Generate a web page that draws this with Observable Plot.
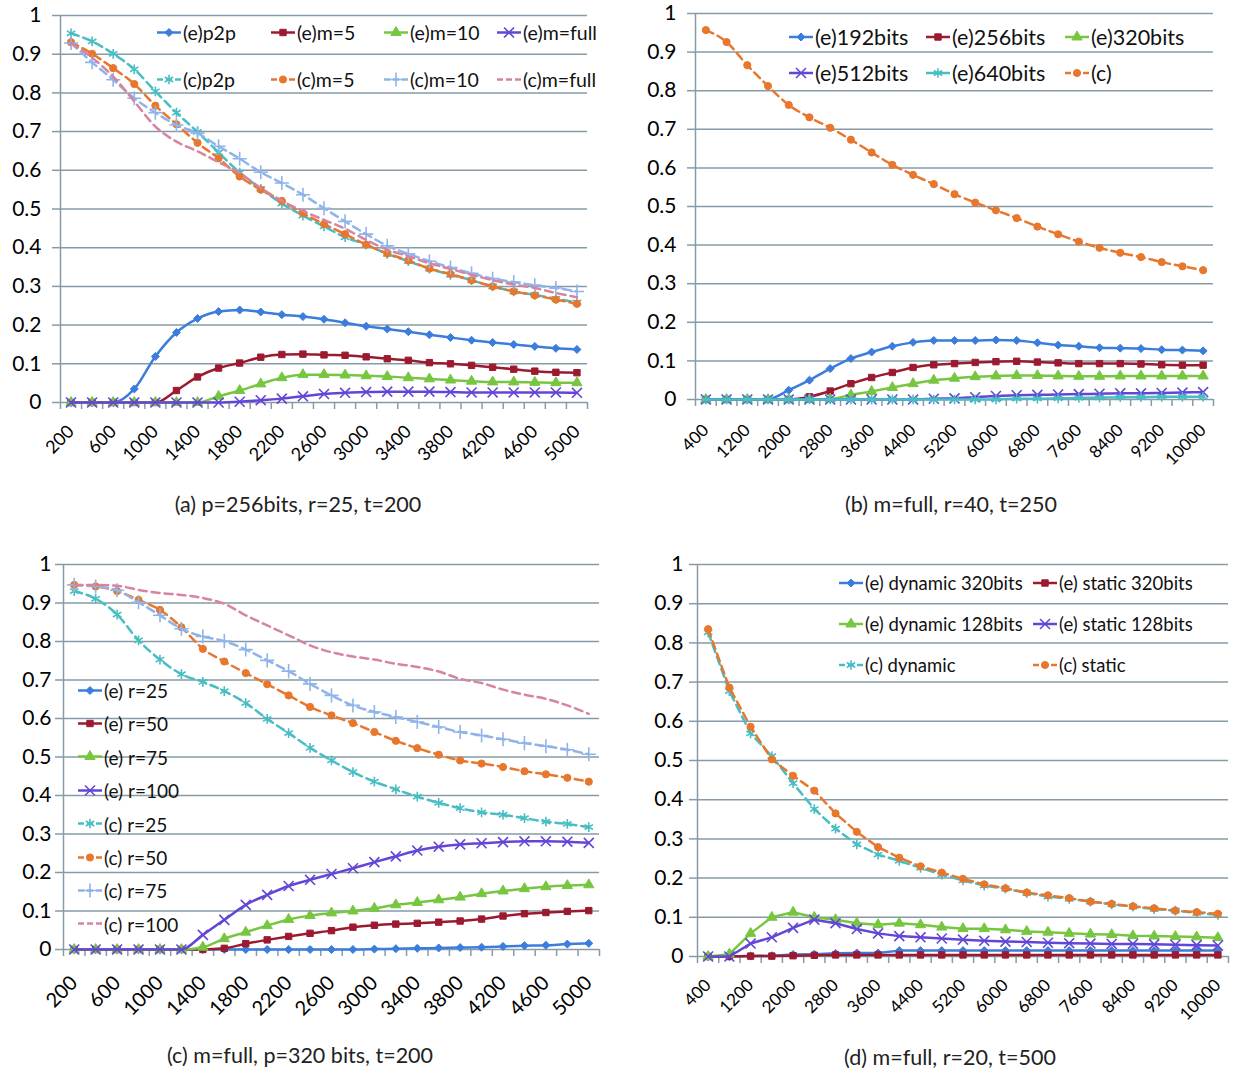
<!DOCTYPE html>
<html><head><meta charset="utf-8">
<script src="https://cdn.jsdelivr.net/npm/d3@7"></script>
<script src="https://cdn.jsdelivr.net/npm/@observablehq/plot@0.6"></script>
<style>
body{margin:0;background:#fff;font-family:Lato,"Open Sans",sans-serif;}
#root{position:relative;width:1247px;height:1070px;overflow:hidden;background:#fff;}
.panel{position:absolute;}
.cap{position:absolute;font-size:21.5px;color:#222;white-space:nowrap;transform:translate(-50%,-50%);}
.leg{position:absolute;display:flex;align-items:center;white-space:nowrap;color:#111;transform:translateY(-50%);}
.leg svg{margin-right:2px;overflow:visible;}
</style></head>
<body><div id="root"></div>
<script>
// ---------- categories ----------
const catsA = [200,400,600,800,1000,1200,1400,1600,1800,2000,2200,2400,2600,2800,3000,3200,3400,3600,3800,4000,4200,4400,4600,4800,5000];
const catsB = [400,800,1200,1600,2000,2400,2800,3200,3600,4000,4400,4800,5200,5600,6000,6400,6800,7200,7600,8000,8400,8800,9200,9600,10000];
const catsC = catsA;
const catsD = catsB;
const yTicks = [0,0.1,0.2,0.3,0.4,0.5,0.6,0.7,0.8,0.9,1];

// ---------- (a) p=256bits, r=25, t=200 ----------
const aE_p2p  = [0,0,0,0.035,0.119,0.181,0.217,0.235,0.239,0.234,0.227,0.222,0.215,0.206,0.197,0.19,0.183,0.175,0.168,0.161,0.155,0.15,0.145,0.14,0.137];
const aE_m5   = [0,0,0,0,0,0.031,0.066,0.089,0.102,0.117,0.124,0.125,0.123,0.122,0.118,0.113,0.109,0.103,0.1,0.096,0.091,0.086,0.081,0.078,0.077];
const aE_m10  = [0,0,0,0,0,0,0,0.016,0.031,0.048,0.064,0.072,0.072,0.071,0.069,0.067,0.064,0.061,0.058,0.055,0.053,0.053,0.052,0.051,0.051];
const aE_full = [0,0,0,0,0,0,0,0,0.002,0.006,0.01,0.016,0.022,0.025,0.027,0.028,0.028,0.028,0.027,0.026,0.026,0.026,0.026,0.026,0.025];
const aC_p2p  = [0.954,0.933,0.901,0.861,0.804,0.749,0.699,0.646,0.594,0.552,0.514,0.483,0.455,0.427,0.408,0.384,0.365,0.346,0.33,0.316,0.3,0.287,0.278,0.268,0.259];
const aC_m5   = [0.931,0.901,0.864,0.823,0.767,0.719,0.671,0.631,0.584,0.55,0.521,0.489,0.461,0.435,0.408,0.385,0.367,0.346,0.332,0.316,0.3,0.287,0.277,0.266,0.255];
const aC_m10  = [0.929,0.879,0.834,0.786,0.749,0.717,0.696,0.662,0.63,0.595,0.567,0.537,0.502,0.468,0.435,0.405,0.384,0.365,0.349,0.334,0.32,0.311,0.303,0.296,0.287];
const aC_full = [0.929,0.891,0.842,0.778,0.713,0.674,0.649,0.621,0.593,0.554,0.521,0.495,0.472,0.449,0.42,0.395,0.378,0.36,0.345,0.33,0.316,0.305,0.296,0.283,0.272];

// ---------- (b) m=full, r=40, t=250 ----------
const bE192 = [0,0,0,0.001,0.024,0.05,0.08,0.106,0.123,0.138,0.148,0.153,0.153,0.153,0.154,0.153,0.147,0.141,0.138,0.134,0.133,0.132,0.129,0.128,0.126];
const bE256 = [0,0,0,0,0,0.007,0.022,0.041,0.057,0.07,0.083,0.09,0.093,0.096,0.098,0.099,0.097,0.095,0.093,0.093,0.093,0.092,0.09,0.089,0.089];
const bE320 = [0,0,0,0,0,0,0.001,0.012,0.021,0.031,0.041,0.05,0.055,0.059,0.061,0.062,0.062,0.061,0.06,0.06,0.061,0.061,0.061,0.061,0.061];
const bE512 = [0,0,0,0,0,0,0,0,0,0,0,0.002,0.003,0.006,0.009,0.011,0.012,0.013,0.014,0.015,0.016,0.016,0.017,0.018,0.019];
const bE640 = [0,0,0,0,0,0,0,0,0,0,0,0,0,0,0,0.002,0.002,0.003,0.004,0.005,0.006,0.006,0.007,0.007,0.007];
const bC    = [0.957,0.926,0.866,0.812,0.763,0.731,0.704,0.673,0.64,0.608,0.582,0.558,0.532,0.51,0.49,0.47,0.448,0.428,0.409,0.393,0.38,0.369,0.356,0.345,0.335];

// ---------- (c) m=full, p=320 bits, t=200 ----------
const cE25  = [0,0,0,0,0,0,0,0,0,0,0,0,0,0,0.001,0.002,0.003,0.004,0.005,0.006,0.008,0.01,0.011,0.014,0.016];
const cE50  = [0,0,0,0,0,0,0,0.003,0.015,0.025,0.034,0.042,0.049,0.058,0.063,0.066,0.068,0.071,0.074,0.079,0.087,0.093,0.096,0.099,0.101];
const cE75  = [0,0,0,0,0,0,0.006,0.028,0.045,0.062,0.078,0.088,0.095,0.1,0.107,0.116,0.122,0.129,0.136,0.145,0.152,0.158,0.163,0.166,0.168];
const cE100 = [0,0,0,0,0,0,0.038,0.077,0.116,0.142,0.165,0.181,0.196,0.211,0.227,0.242,0.257,0.267,0.273,0.276,0.279,0.281,0.281,0.28,0.277];
const cC25  = [0.931,0.911,0.87,0.803,0.753,0.715,0.695,0.671,0.64,0.599,0.562,0.524,0.491,0.461,0.436,0.416,0.397,0.381,0.367,0.356,0.35,0.341,0.332,0.326,0.318];
const cC50  = [0.947,0.943,0.931,0.908,0.882,0.837,0.781,0.748,0.718,0.689,0.66,0.63,0.608,0.588,0.565,0.542,0.523,0.506,0.491,0.483,0.474,0.463,0.455,0.446,0.436];
const cC75  = [0.947,0.943,0.933,0.902,0.868,0.833,0.813,0.801,0.779,0.751,0.723,0.69,0.66,0.634,0.617,0.604,0.591,0.578,0.565,0.556,0.546,0.536,0.528,0.519,0.507];
const cC100 = [0.947,0.947,0.945,0.934,0.926,0.921,0.913,0.898,0.868,0.842,0.816,0.79,0.772,0.761,0.753,0.742,0.734,0.722,0.703,0.692,0.675,0.662,0.651,0.634,0.612];

// ---------- (d) m=full, r=20, t=500 ----------
const dEdyn320 = [0,0,0.001,0.002,0.005,0.006,0.008,0.009,0.009,0.015,0.015,0.015,0.015,0.015,0.015,0.015,0.015,0.015,0.015,0.015,0.015,0.015,0.015,0.015,0.015];
const dEsta320 = [0,0,0.001,0.001,0.002,0.003,0.004,0.004,0.004,0.004,0.004,0.004,0.004,0.004,0.004,0.004,0.004,0.004,0.004,0.004,0.004,0.004,0.004,0.004,0.004];
const dEdyn128 = [0,0.006,0.059,0.1,0.113,0.1,0.094,0.085,0.081,0.085,0.081,0.075,0.071,0.071,0.068,0.064,0.062,0.059,0.057,0.056,0.053,0.052,0.051,0.05,0.048];
const dEsta128 = [0,0,0.033,0.049,0.073,0.094,0.085,0.07,0.059,0.052,0.049,0.046,0.043,0.04,0.038,0.037,0.035,0.034,0.033,0.032,0.032,0.031,0.03,0.029,0.028];
const dCdyn    = [0.827,0.677,0.569,0.511,0.442,0.376,0.326,0.286,0.26,0.244,0.226,0.209,0.194,0.181,0.173,0.162,0.153,0.147,0.14,0.133,0.127,0.121,0.117,0.111,0.106];
const dCsta    = [0.835,0.686,0.586,0.503,0.461,0.423,0.365,0.318,0.279,0.252,0.23,0.214,0.198,0.184,0.174,0.163,0.156,0.149,0.14,0.134,0.128,0.123,0.117,0.113,0.109];

// ---------- styles ----------
const C = {blue:"#3b7ddd", red:"#9c1a30", green:"#77c640", purple:"#6446d6", cyan:"#47bec3", orange:"#e8772e", lblue:"#8fb4ea", pink:"#d6849f"};
const GRID = "#869ba7", AXIS = "#869ba7";
const SYM = {
  diamond: d3.symbolDiamond2 || d3.symbolDiamond,
  square: d3.symbolSquare,
  triangle: d3.symbolTriangle,
  circle: d3.symbolCircle,
  times: d3.symbolTimes || d3.symbolX || d3.symbolCross,
  asterisk: d3.symbolAsterisk || d3.symbolCross,
  plus: d3.symbolPlus || d3.symbolCross
};
const FILLED = new Set(["diamond","square","triangle","circle"]);
const SIZE = {diamond:3.6, square:3.6, triangle:3.8, circle:3.6, times:4.6, asterisk:4.6, plus:4.6};
const S = {
  eBlue:{color:C.blue, sym:"diamond", dash:false},
  eRed:{color:C.red, sym:"square", dash:false},
  eGreen:{color:C.green, sym:"triangle", dash:false},
  ePurple:{color:C.purple, sym:"times", dash:false},
  eCyan:{color:C.cyan, sym:"asterisk", dash:false},
  cCyan:{color:C.cyan, sym:"asterisk", dash:true},
  cOrange:{color:C.orange, sym:"circle", dash:true},
  cLblue:{color:C.lblue, sym:"plus", dash:true},
  cPink:{color:C.pink, sym:null, dash:true}
};
const DASH = "8,5";
const fmtY = d => String(+d.toFixed(1));

function makePanel(p) {
  const step = p.cats[1] - p.cats[0];
  const bounds = [p.cats[0] - step / 2, ...p.cats.map(c => c + step / 2)];
  const labelTicks = p.cats.filter((c, i) => i % 2 === 0);
  const marks = [
    Plot.ruleY(yTicks, {stroke: GRID, strokeWidth: 1.5}),
    Plot.ruleX([bounds[0]], {stroke: AXIS, strokeWidth: 1.5}),
    Plot.axisY({ticks: yTicks, tickSize: 8, tickFormat: () => "", stroke: AXIS, strokeWidth: 1.5, label: null}),
    Plot.axisY({ticks: yTicks, tickSize: 0, tickPadding: p.yPad, tickFormat: fmtY, fontSize: 21, color: "#000", label: null}),
    Plot.axisX({ticks: bounds, tickSize: 7, tickFormat: () => "", stroke: AXIS, strokeWidth: 1.5, label: null}),
    Plot.axisX({ticks: labelTicks, tickSize: 0, tickPadding: p.xPad, tickRotate: -45, tickFormat: d => String(d), fontSize: p.xFont, color: "#000", label: null})
  ];
  for (const s of p.series) {
    const d = s.values.map((v, i) => ({x: p.cats[i], y: v}));
    const lineOpts = {x: "x", y: "y", stroke: s.style.color, strokeWidth: 2.5, curve: p.curve || "monotone-x"};
    if (s.style.dash) lineOpts.strokeDasharray = DASH;
    marks.push(Plot.line(d, lineOpts));
    if (s.style.sym) {
      const filled = FILLED.has(s.style.sym);
      marks.push(Plot.dot(d, {x: "x", y: "y", symbol: SYM[s.style.sym], r: SIZE[s.style.sym],
        fill: filled ? s.style.color : "none", stroke: s.style.color, strokeWidth: filled ? 1 : 1.6}));
    }
  }
  return Plot.plot({
    width: p.width, height: p.height,
    marginLeft: p.m[0], marginRight: p.m[1], marginTop: p.m[2], marginBottom: p.m[3],
    x: {type: "linear", domain: [bounds[0], bounds[bounds.length - 1]], label: null},
    y: {domain: [0, 1], label: null},
    style: {fontFamily: "Lato, 'Open Sans', sans-serif", overflow: "visible", background: "transparent"},
    marks
  });
}

const root = document.getElementById("root");
function place(el, left, top) {
  const div = document.createElement("div");
  div.className = "panel";
  div.style.left = left + "px"; div.style.top = top + "px";
  div.appendChild(el);
  root.appendChild(div);
}
function caption(text, cx, cy) {
  const d = document.createElement("div");
  d.className = "cap"; d.textContent = text;
  d.style.left = cx + "px"; d.style.top = cy + "px";
  root.appendChild(d);
}
function legendItem(text, style, x, y, font) {
  const d = document.createElement("div");
  d.className = "leg";
  d.style.left = x + "px"; d.style.top = y + "px"; d.style.fontSize = font + "px";
  const svg = d3.create("svg").attr("width", 24).attr("height", 14);
  const ln = svg.append("line").attr("x1", 0).attr("x2", 24).attr("y1", 7).attr("y2", 7)
    .attr("stroke", style.color).attr("stroke-width", 2.5);
  if (style.dash) ln.attr("stroke-dasharray", "6,3");
  if (style.sym) {
    const filled = FILLED.has(style.sym);
    const r = SIZE[style.sym];
    svg.append("path").attr("transform", "translate(12,7)")
      .attr("d", d3.symbol(SYM[style.sym], Math.PI * r * r)())
      .attr("fill", filled ? style.color : "none").attr("stroke", style.color)
      .attr("stroke-width", filled ? 1 : 1.6);
  }
  d.appendChild(svg.node());
  const t = document.createElement("span"); t.textContent = text;
  d.appendChild(t);
  root.appendChild(d);
}

// ---------- panel (a) ----------
const seriesA = [
  {name: "(e)p2p", values: aE_p2p, style: S.eBlue},
  {name: "(e)m=5", values: aE_m5, style: S.eRed},
  {name: "(e)m=10", values: aE_m10, style: S.eGreen},
  {name: "(e)m=full", values: aE_full, style: S.ePurple},
  {name: "(c)p2p", values: aC_p2p, style: S.cCyan},
  {name: "(c)m=5", values: aC_m5, style: S.cOrange},
  {name: "(c)m=10", values: aC_m10, style: S.cLblue},
  {name: "(c)m=full", values: aC_full, style: S.cPink}
];
place(makePanel({cats: catsA, series: seriesA, width: 620, height: 470, m: [60, 33, 15, 68], yPad: 19, xPad: 26, xFont: 18}), 0, 0);

// ---------- panel (b) ----------
const seriesB = [
  {name: "(e)192bits", values: bE192, style: S.eBlue},
  {name: "(e)256bits", values: bE256, style: S.eRed},
  {name: "(e)320bits", values: bE320, style: S.eGreen},
  {name: "(e)512bits", values: bE512, style: S.ePurple},
  {name: "(e)640bits", values: bE640, style: S.eCyan},
  {name: "(c)", values: bC, style: S.cOrange}
];
place(makePanel({cats: catsB, series: seriesB, width: 627, height: 470, m: [75, 34, 13, 71], yPad: 19, xPad: 28, xFont: 17}), 620, 0);

// ---------- panel (c) ----------
const seriesC = [
  {name: "(e) r=25", values: cE25, style: S.eBlue},
  {name: "(e) r=50", values: cE50, style: S.eRed},
  {name: "(e) r=75", values: cE75, style: S.eGreen},
  {name: "(e) r=100", values: cE100, style: S.ePurple},
  {name: "(c) r=25", values: cC25, style: S.cCyan},
  {name: "(c) r=50", values: cC50, style: S.cOrange},
  {name: "(c) r=75", values: cC75, style: S.cLblue},
  {name: "(c) r=100", values: cC100, style: S.cPink}
];
place(makePanel({cats: catsC, series: seriesC, width: 620, height: 490, m: [63, 21, 24, 81], yPad: 12, xPad: 30, xFont: 20}), 0, 540);

// ---------- panel (d) ----------
const seriesD = [
  {name: "(e) dynamic 320bits", values: dEdyn320, style: S.eBlue},
  {name: "(e) static 320bits", values: dEsta320, style: S.eRed},
  {name: "(e) dynamic 128bits", values: dEdyn128, style: S.eGreen},
  {name: "(e) static 128bits", values: dEsta128, style: S.ePurple},
  {name: "(c) dynamic", values: dCdyn, style: S.cCyan},
  {name: "(c) static", values: dCsta, style: S.cOrange}
];
place(makePanel({cats: catsD, series: seriesD, width: 627, height: 490, m: [77, 19, 24, 74], yPad: 14, xPad: 26, xFont: 17, curve: "linear"}), 620, 540);

// ---------- legends ----------
const legA = {cols: [157, 271, 384, 497], rows: [32, 79], font: 19.5};
seriesA.forEach((s, i) => legendItem(s.name, s.style, legA.cols[i % 4], legA.rows[Math.floor(i / 4)], legA.font));
const legB = {cols: [789, 926, 1065], rows: [37, 73], font: 21.5};
seriesB.forEach((s, i) => legendItem(s.name, s.style, legB.cols[i % 3], legB.rows[Math.floor(i / 3)], legB.font));
seriesC.forEach((s, i) => legendItem(s.name, s.style, 78, 690 + i * 33.4, 19));
const legD = {cols: [839, 1033], rows: [583, 624, 665], font: 18.5};
seriesD.forEach((s, i) => legendItem(s.name, s.style, legD.cols[i % 2], legD.rows[Math.floor(i / 2)], legD.font));

// ---------- captions ----------
caption("(a) p=256bits, r=25, t=200", 298, 504);
caption("(b) m=full, r=40, t=250", 951, 504);
caption("(c) m=full, p=320 bits, t=200", 300, 1055);
caption("(d) m=full, r=20, t=500", 950, 1057);
</script>
</body></html>
